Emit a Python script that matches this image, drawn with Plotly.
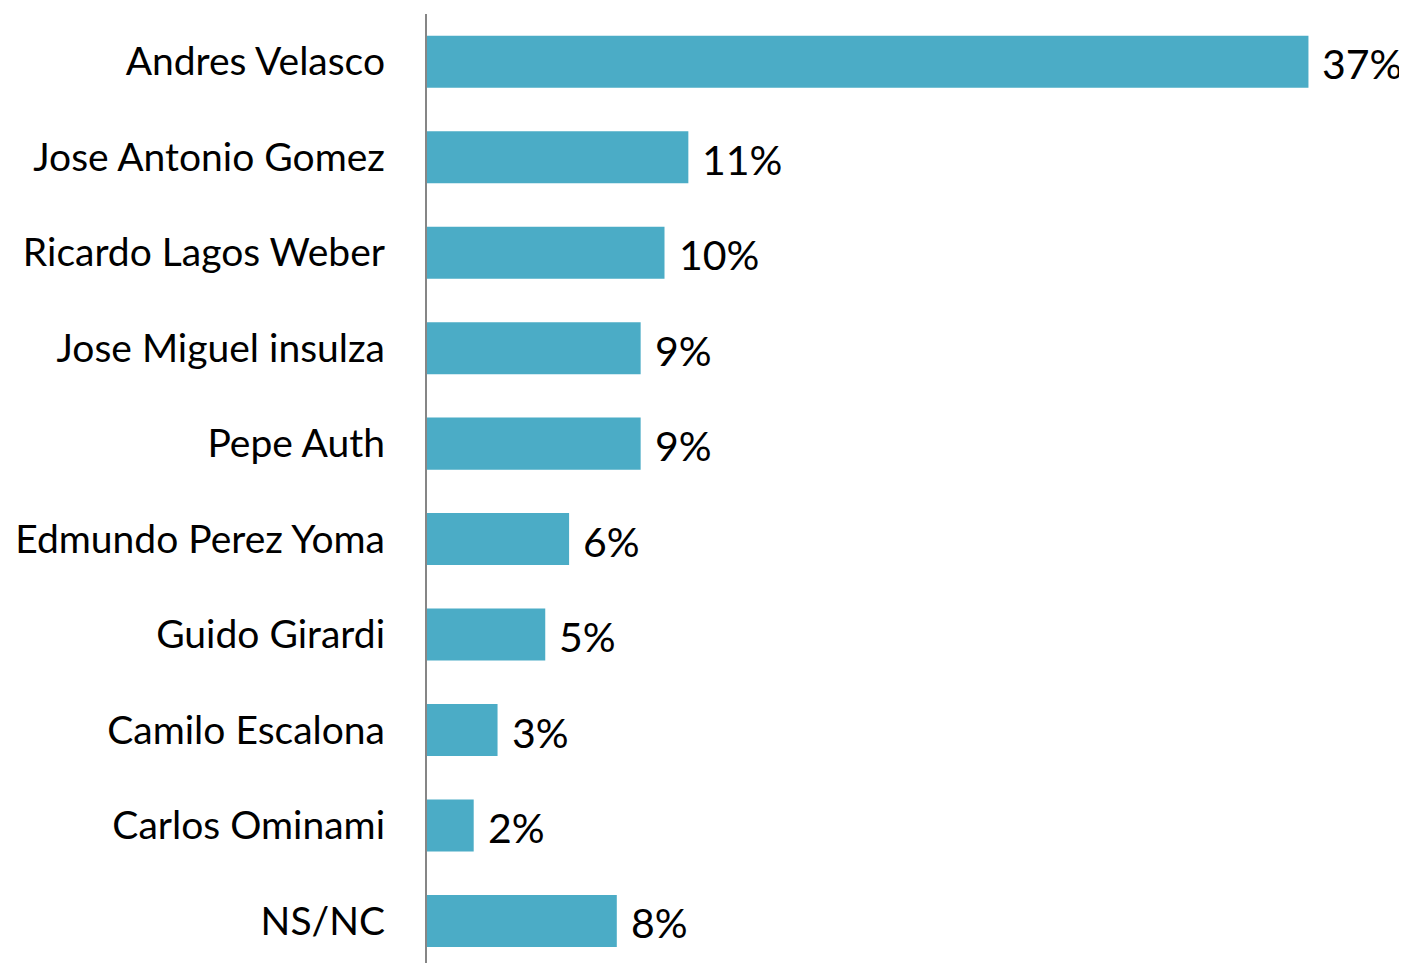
import plotly.graph_objects as go

categories = ["Andres Velasco", "Jose Antonio Gomez", "Ricardo Lagos Weber",
              "Jose Miguel insulza", "Pepe Auth", "Edmundo Perez Yoma",
              "Guido Girardi", "Camilo Escalona", "Carlos Ominami", "NS/NC"]
values = [37, 11, 10, 9, 9, 6, 5, 3, 2, 8]
value_labels = ["37%", "11%", "10%", "9%", "9%", "6%", "5%", "3%", "2%", "8%"]

FONT = "Lato"
fig = go.Figure()
fig.add_trace(go.Bar(
    y=categories, x=values, orientation="h",
    marker=dict(color="#4BACC6", line=dict(width=0)),
    width=0.545, showlegend=False, hoverinfo="skip",
))
for c, v, t in zip(categories, values, value_labels):
    fig.add_annotation(x=v, y=c, text=t, showarrow=False, xanchor="left",
                       xshift=12, yshift=-2,
                       font=dict(family=FONT, size=41, color="black"))

fig.update_layout(
    width=1399, height=955,
    margin=dict(l=418, r=27, t=6, b=0),
    plot_bgcolor="white", paper_bgcolor="white",
    xaxis=dict(range=[0, 40], visible=False),
    yaxis=dict(range=[9.44, -0.5], showgrid=False, zeroline=False,
               showline=False, ticks="", ticklabelstandoff=40,
               tickfont=dict(family=FONT, size=39, color="black")),
    shapes=[dict(type="line", xref="paper", yref="paper", x0=0, x1=0, y0=0, y1=1,
                 line=dict(color="#868686", width=2))],
)
fig.write_html("out.html")
